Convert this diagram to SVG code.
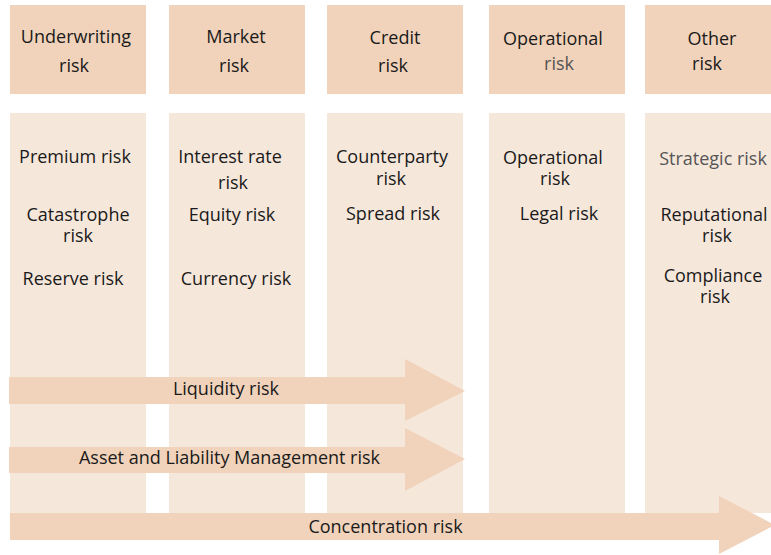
<svg xmlns="http://www.w3.org/2000/svg" width="771" height="555" viewBox="0 0 771 555">
<style>
.hd{fill:#F1D3BB}
.bd{fill:#F6E7DB}
.ar{fill:#F1D3BB}
text{font-family:"Open Sans","Noto Sans","DejaVu Sans",sans-serif;font-size:18px;fill:#1a1a1a;text-anchor:middle}
.g{fill:#555}
</style>
<rect width="771" height="555" fill="#fff"/>
<g id="col-underwriting">
<rect class="hd" x="10" y="5" width="136" height="89"/>
<rect class="bd" x="10" y="113" width="136" height="400"/>
<text><tspan x="76" y="43">Underwriting</tspan><tspan x="74" y="72">risk</tspan></text>
<text x="75" y="163">Premium risk</text>
<text><tspan x="78" y="221">Catastrophe</tspan><tspan x="78" y="242">risk</tspan></text>
<text x="73" y="285">Reserve risk</text>
</g>
<g id="col-market">
<rect class="hd" x="169" y="5" width="136" height="89"/>
<rect class="bd" x="169" y="113" width="136" height="400"/>
<text><tspan x="236" y="43">Market</tspan><tspan x="234" y="72">risk</tspan></text>
<text><tspan x="230" y="163">Interest rate</tspan><tspan x="233" y="189">risk</tspan></text>
<text x="232" y="221">Equity risk</text>
<text x="236" y="285">Currency risk</text>
</g>
<g id="col-credit">
<rect class="hd" x="327" y="5" width="136" height="89"/>
<rect class="bd" x="327" y="113" width="136" height="400"/>
<text><tspan x="395" y="44">Credit</tspan><tspan x="393" y="72">risk</tspan></text>
<text><tspan x="392" y="163">Counterparty</tspan><tspan x="391" y="185">risk</tspan></text>
<text x="393" y="220">Spread risk</text>
</g>
<g id="col-operational">
<rect class="hd" x="489" y="5" width="136" height="89"/>
<rect class="bd" x="489" y="113" width="136" height="400"/>
<text><tspan x="553" y="45">Operational</tspan><tspan class="g" x="559" y="70">risk</tspan></text>
<text><tspan x="553" y="164">Operational</tspan><tspan x="555" y="185">risk</tspan></text>
<text x="559" y="220">Legal risk</text>
</g>
<g id="col-other">
<rect class="hd" x="645" y="5" width="126" height="89"/>
<rect class="bd" x="645" y="113" width="126" height="400"/>
<text><tspan x="712" y="45">Other</tspan><tspan x="707" y="70">risk</tspan></text>
<text class="g" x="713" y="165">Strategic risk</text>
<text><tspan x="714" y="221">Reputational</tspan><tspan x="717" y="242">risk</tspan></text>
<text><tspan x="713" y="282">Compliance</tspan><tspan x="715" y="303">risk</tspan></text>
</g>
<g id="connectors">
<g id="liquidity">
<polygon class="ar" points="9,377 405,377 405,359 465,391 405,421 405,404 9,404"/>
<text x="226" y="395">Liquidity risk</text>
</g>
<g id="alm">
<polygon class="ar" points="9,447 405,447 405,428 465,459 405,491 405,473 9,473"/>
<text x="229.5" y="464">Asset and Liability Management risk</text>
</g>
<g id="concentration">
<polygon class="ar" points="10,513 719,513 719,496 775,525 719,554 719,540 10,540"/>
<text x="385.5" y="533">Concentration risk</text>
</g>
</g>
</svg>
